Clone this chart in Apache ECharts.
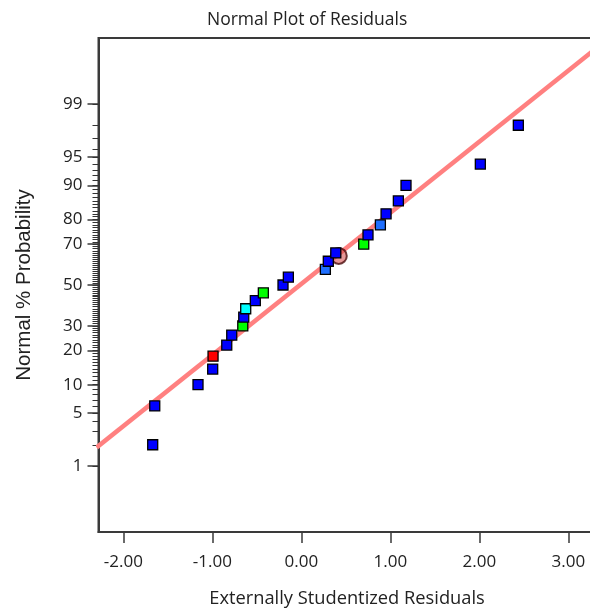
<!DOCTYPE html>
<html>
<head>
<meta charset="utf-8">
<script src="https://cdn.jsdelivr.net/npm/echarts@6/dist/echarts.min.js"></script>
<style>
  html, body { margin: 0; padding: 0; background: #fff; overflow: hidden; }
  #chart { width: 620px; height: 608px; }
</style>
</head>
<body>
<div id="chart"></div>
<script>
// residuals, sorted, with their normal % probability
let residuals = [-1.670, -1.647, -1.161, -0.996, -0.992, -0.838, -0.782, -0.658, -0.647, -0.625,
                 -0.517, -0.427, -0.206, -0.146, 0.270, 0.303, 0.387, 0.701, 0.749, 0.888,
                 0.952, 1.090, 1.176, 2.011, 2.438];
let normalProb = [2, 6, 10, 14, 18, 22, 26, 30, 34, 38, 42, 46, 50, 54, 58, 62, 66, 70, 74, 78,
                  82, 86, 90, 94, 98];
// colour group of each point (b=blue, r=red, g=green, c=cyan, l=light blue)
let pointGroup = ['b', 'b', 'b', 'b', 'r', 'b', 'b', 'g', 'b', 'c', 'b', 'g', 'b', 'b', 'l',
                  'b', 'b', 'g', 'b', 'l', 'b', 'b', 'b', 'b', 'b'];
let circledIndex = [16];

// red reference line, two end points (residual, % probability)
let lineResid = [-2.3, 3.3];
let lineProb = [1.84, 99.878];

let probTicks = [1, 5, 10, 20, 30, 50, 70, 80, 90, 95, 99];
let probMinor = [];
for (let i = 1; i <= 99; i++) probMinor.push(i);
let residTicks = [-2, -1, 0, 1, 2, 3];

let groupColor = { b: '#0000ff', r: '#ff0000', g: '#00ff00', c: '#00ffff', l: '#1f6fff' };

// inverse normal cdf (Acklam), used as the probability axis transform
function probit(p) {
    let a = [-3.969683028665376e+01, 2.209460984245205e+02, -2.759285104469687e+02,
             1.383577518672690e+02, -3.066479806614716e+01, 2.506628277459239e+00];
    let b = [-5.447609879822406e+01, 1.615858368580409e+02, -1.556989798598866e+02,
             6.680131188771972e+01, -1.328068155288572e+01];
    let c = [-7.784894002430293e-03, -3.223964580411365e-01, -2.400758277161838e+00,
             -2.549732539343734e+00, 4.374664141464968e+00, 2.938163982698783e+00];
    let d = [7.784695709041462e-03, 3.224671290700398e-01, 2.445134137142996e+00,
             3.754408661907416e+00];
    let plow = 0.02425, q, r;
    if (p < plow) {
        q = Math.sqrt(-2 * Math.log(p));
        return (((((c[0]*q+c[1])*q+c[2])*q+c[3])*q+c[4])*q+c[5]) / ((((d[0]*q+d[1])*q+d[2])*q+d[3])*q+1);
    }
    if (p <= 1 - plow) {
        q = p - 0.5; r = q * q;
        return (((((a[0]*r+a[1])*r+a[2])*r+a[3])*r+a[4])*r+a[5])*q / (((((b[0]*r+b[1])*r+b[2])*r+b[3])*r+b[4])*r+1);
    }
    q = Math.sqrt(-2 * Math.log(1 - p));
    return -(((((c[0]*q+c[1])*q+c[2])*q+c[3])*q+c[4])*q+c[5]) / ((((d[0]*q+d[1])*q+d[2])*q+d[3])*q+1);
}

let pointData = residuals.map(function (x, i) {
    return {
        value: [x, probit(normalProb[i] / 100)],
        itemStyle: { color: groupColor[pointGroup[i]] }
    };
});
let circleData = circledIndex.map(function (i) {
    return [residuals[i], probit(normalProb[i] / 100)];
});
let lineData = lineResid.map(function (x, i) {
    return [x, probit(lineProb[i] / 100)];
});
let majorZ = probTicks.map(function (p) { return probit(p / 100); });
let minorZ = probMinor.map(function (p) { return probit(p / 100); });

let axisColor = '#3a3a3a';
let textColor = '#222';
let uiFont = '"Open Sans", sans-serif';

let chart = echarts.init(document.getElementById('chart'));

let option = {
    animation: false,
    title: {
        text: 'Normal Plot of Residuals',
        left: 202,
        top: 6,
        textStyle: { fontFamily: uiFont, fontSize: 17.5, fontWeight: 'normal', color: textColor }
    },
    grid: {
        left: 98.5,
        top: 38,
        width: 497,
        height: 494,
        outerBoundsMode: 'none',
        containLabel: false,
        show: true,
        borderColor: axisColor,
        borderWidth: 2,
        backgroundColor: '#fff'
    },
    xAxis: {
        type: 'value',
        min: -2.279,
        max: 3.305,
        name: 'Externally Studentized Residuals',
        nameLocation: 'middle',
        nameGap: 58,
        nameTextStyle: { fontFamily: uiFont, fontSize: 18.3, color: textColor },
        axisLine: { show: true, onZero: false, lineStyle: { color: axisColor, width: 2 } },
        axisTick: { show: true, inside: false, length: 11, customValues: residTicks,
                    lineStyle: { color: axisColor, width: 1.5 } },
        axisLabel: {
            customValues: residTicks,
            margin: 22,
            fontFamily: uiFont, fontSize: 17, color: textColor,
            formatter: function (v) { return v.toFixed(2); }
        },
        splitLine: { show: false }
    },
    yAxis: [
        {
            type: 'value',
            min: -3.175,
            max: 3.175,
            name: 'Normal % Probability',
            nameLocation: 'middle',
            nameGap: 64,
            nameTextStyle: { fontFamily: '"Liberation Sans", Arial, sans-serif', fontSize: 20.5, color: textColor },
            axisLine: { show: true, onZero: false, lineStyle: { color: axisColor, width: 2 } },
            axisTick: { show: true, inside: false, length: 11, customValues: majorZ,
                        lineStyle: { color: axisColor, width: 1.5 } },
            axisLabel: {
                customValues: majorZ,
                margin: 16,
                fontFamily: uiFont, fontSize: 17, color: textColor,
                formatter: function (v) {
                    let best = 0;
                    for (let i = 1; i < majorZ.length; i++) {
                        if (Math.abs(majorZ[i] - v) < Math.abs(majorZ[best] - v)) best = i;
                    }
                    return String(probTicks[best]);
                }
            },
            splitLine: { show: false }
        },
        {
            type: 'value',
            min: -3.175,
            max: 3.175,
            position: 'left',
            offset: 0,
            axisLine: { show: false, onZero: false },
            axisTick: { show: true, inside: false, length: 6, customValues: minorZ,
                        lineStyle: { color: '#333', width: 1 } },
            axisLabel: { show: false },
            splitLine: { show: false }
        }
    ],
    series: [
        {
            type: 'line',
            data: lineData,
            symbol: 'none',
            lineStyle: { color: '#ff8080', width: 4.5 },
            z: 1,
            silent: true
        },
        {
            type: 'scatter',
            data: circleData,
            symbol: 'circle',
            symbolSize: 16,
            symbolOffset: [3, 3],
            itemStyle: { color: 'rgba(210,70,70,0.7)', borderColor: '#4a0c0c', borderWidth: 2 },
            z: 2
        },
        {
            type: 'scatter',
            data: pointData,
            symbol: 'rect',
            symbolSize: 10,
            itemStyle: { borderColor: '#000', borderWidth: 1.3, opacity: 1 },
            z: 3
        }
    ]
};

chart.setOption(option);
</script>
</body>
</html>
